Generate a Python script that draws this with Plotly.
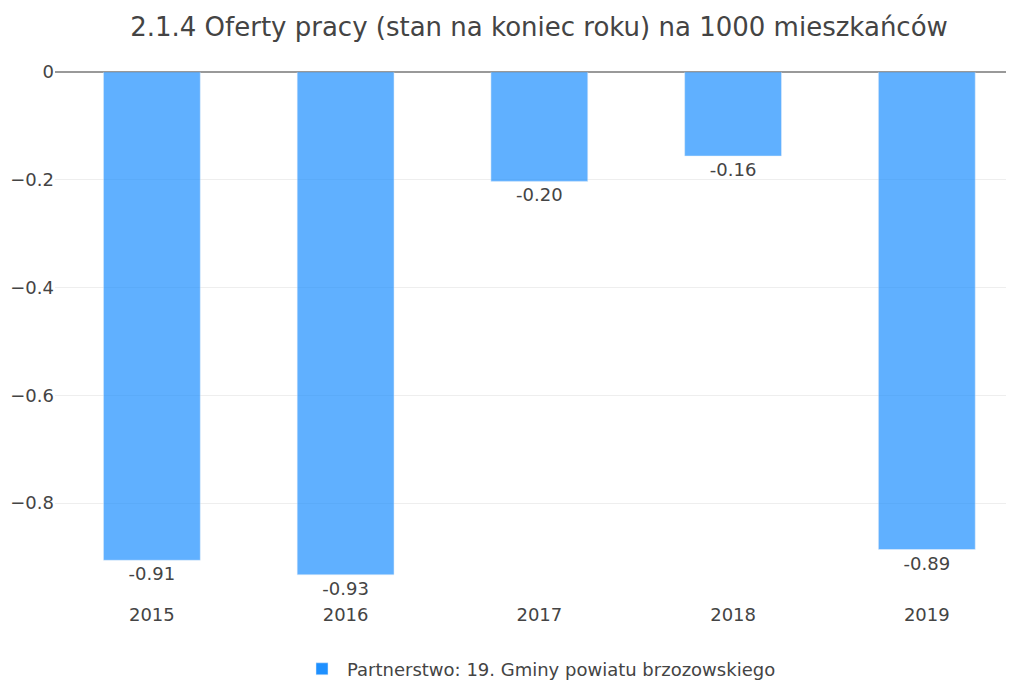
import plotly.graph_objects as go

years = ["2015", "2016", "2017", "2018", "2019"]
values = [-0.906, -0.933, -0.203, -0.156, -0.886]
labels = [f"{v:.2f}" for v in values]
series_name = "Partnerstwo: 19. Gminy powiatu brzozowskiego"
title_text = "2.1.4 Oferty pracy (stan na koniec roku) na 1000 mieszkańców"
ytick_vals = [0, -0.2, -0.4, -0.6, -0.8]

FONT = "Verdana, DejaVu Sans, sans-serif"
H = 700

fig = go.Figure()
fig.add_trace(go.Bar(
    x=years, y=values, name=series_name,
    text=labels, textposition="outside", cliponaxis=False,
    textfont=dict(size=18, color="#444", family=FONT),
    marker=dict(color="#1E90FF", opacity=0.7),
    showlegend=True,
))

fig.update_layout(
    width=1014, height=H,
    margin=dict(l=47, r=8, t=64, b=H - 590),
    paper_bgcolor="white", plot_bgcolor="white",
    font=dict(family=FONT, size=18, color="#444"),
    title=dict(text=title_text, xref="paper", x=0.5047, xanchor="center",
               yref="container", y=1 - 19 / H, yanchor="middle",
               font=dict(size=26, color="#444", family=FONT)),
    bargap=0.5,
    xaxis=dict(type="category", range=[-0.5, 4.45], showgrid=False,
               automargin=False, ticklabelstandoff=4,
               tickfont=dict(size=18, color="#444")),
    yaxis=dict(range=[-0.976, 0], tickvals=ytick_vals,
               showgrid=True, gridcolor="#eeeeee", automargin=False,
               zeroline=True, zerolinecolor="#999999", zerolinewidth=2,
               tickfont=dict(size=18, color="#444")),
    legend=dict(orientation="h", x=0.5047, xanchor="center", itemwidth=40,
                y=-0.100, yanchor="top", font=dict(size=18, color="#444")),
)

fig.write_html("out.html")
